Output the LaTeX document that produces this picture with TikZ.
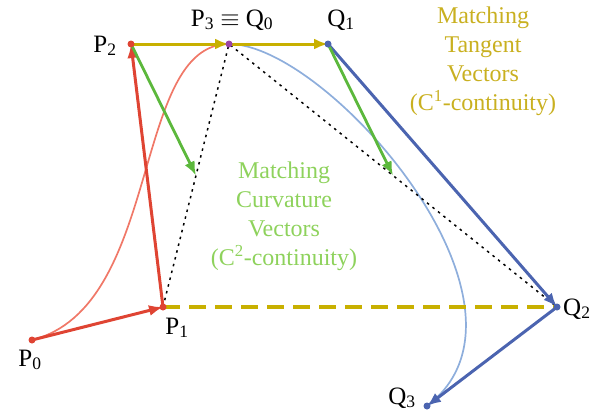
\documentclass[tikz,border=0pt]{standalone}
\usepackage{fontspec}
\setmainfont{Liberation Serif}
\usetikzlibrary{arrows.meta,calc}
\definecolor{cred}{HTML}{DF4433}
\definecolor{lred}{HTML}{F07868}
\definecolor{cyel}{HTML}{C8B000}
\definecolor{tyel}{HTML}{C9B020}
\definecolor{cblue}{HTML}{4B64B0}
\definecolor{lblue}{HTML}{8EAEDC}
\definecolor{cgreen}{HTML}{5CB83C}
\definecolor{tgreen}{HTML}{8ED25C}
\definecolor{cpurple}{HTML}{9A44A8}
\begin{document}
\begin{tikzpicture}[x=1pt,y=-1pt,
  vec/.style={line width=3pt,-{Latex[length=14pt,width=11pt]}},
  curve/.style={line width=1.7pt},
  guide/.style={black,line width=1.5pt,dash pattern=on 2.5pt off 4.5pt},
  pdot/.style={circle,fill,inner sep=0pt,minimum size=7pt},
  lbl/.style={font=\fontsize{25}{30}\selectfont,inner sep=0pt},
  note/.style={font=\fontsize{24}{29}\selectfont,align=center,inner sep=0pt}]
\useasboundingbox (0,0) rectangle (592,413);
\coordinate (P0) at (32,340);
\coordinate (P1) at (163,307);
\coordinate (P2) at (131,44);
\coordinate (P3) at (229,44);
\coordinate (Q1) at (328,44);
\coordinate (Q2) at (557,307);
\coordinate (Q3) at (427,406);
\coordinate (MP) at ($(P1)!0.5!(P3)$);
\coordinate (MQ) at ($(P3)!0.5!(Q2)$);
% curves
\draw[lred,curve] (P0) .. controls (P1) and (P2) .. (P3);
\draw[lblue,curve] (P3) .. controls (Q1) and (Q2) .. (Q3);
% guides
\draw[guide] (P1) -- (P3) -- (Q2);
\draw[cyel,line width=4pt,dash pattern=on 17pt off 9pt] (P1) -- (Q2);
% vectors
\draw[vec,cred] (P0) -- (P1);
\draw[vec,cred] (P1) -- (P2);
\draw[vec,cyel] (P2) -- (P3);
\draw[vec,cyel] (P3) -- (Q1);
\draw[vec,cblue] (Q1) -- (Q2);
\draw[vec,cblue] (Q2) -- (Q3);
\draw[vec,cgreen,line width=2.8pt] (P2) -- (MP);
\draw[vec,cgreen,line width=2.8pt] (Q1) -- (MQ);
% points
\node[pdot,cred] (d0) at (P0) {};
\node[pdot,cred] (d1) at (P1) {};
\node[pdot,cred] (d2) at (P2) {};
\node[pdot,cpurple] (d3) at (P3) {};
\node[pdot,cblue] (e1) at (Q1) {};
\node[pdot,cblue] (e2) at (Q2) {};
\node[pdot,cblue] (e3) at (Q3) {};
% labels
\node[lbl,anchor=base] (lP0) at (30,366) {P\textsubscript{0}};
\node[lbl,anchor=base] (lP1) at (177,334) {P\textsubscript{1}};
\node[lbl,anchor=base] (lP2) at (105,52) {P\textsubscript{2}};
\node[lbl,anchor=base] (lP3) at (232,26) {P\textsubscript{3} $\equiv$ Q\textsubscript{0}};
\node[lbl,anchor=base] (lQ1) at (341,26) {Q\textsubscript{1}};
\node[lbl,anchor=base west] (lQ2) at (563,315) {Q\textsubscript{2}};
\node[lbl,anchor=base] (lQ3) at (402,404) {Q\textsubscript{3}};
\node[note,text=tyel] (tan) at (483,61) {Matching\\Tangent\\Vectors\\(C\textsuperscript{1}-continuity)};
\node[note,text=tgreen] (cur) at (284,216) {Matching\\Curvature\\Vectors\\(C\textsuperscript{2}-continuity)};
\end{tikzpicture}
\end{document}
